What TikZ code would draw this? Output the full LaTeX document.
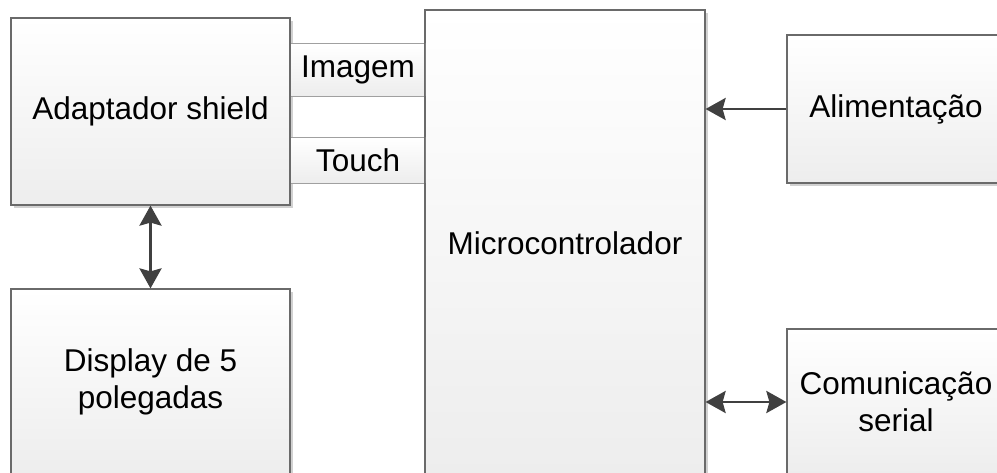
\documentclass[tikz,border=0pt]{standalone}
\usepackage{fontspec}
\setmainfont{Liberation Sans}
\usetikzlibrary{arrows.meta,shadows}
\definecolor{edgegray}{HTML}{6A6A6A}
\definecolor{bandline}{HTML}{A0A0A0}
\definecolor{arrowgray}{HTML}{404040}
\definecolor{shadegray}{HTML}{EDEDED}
\tikzset{
  block/.style={draw=edgegray, line width=1.2pt, top color=white, bottom color=shadegray,
    drop shadow={shadow xshift=3pt, shadow yshift=-3pt, fill=black!18, opacity=1},
    align=center, inner sep=0pt, font=\fontsize{31.5}{37}\selectfont},
  band/.style={top color=white, bottom color=shadegray, inner sep=0pt,
    font=\fontsize{31.5}{37}\selectfont},
  tiphead/.tip={Stealth[length=20pt, width=22pt, inset=3pt]},
  conn/.style={draw=arrowgray, line width=2.9pt, arrows={tiphead-tiphead}},
  oneway/.style={draw=arrowgray, line width=2.9pt, arrows={-tiphead}}
}
\begin{document}
\begin{tikzpicture}[x=1pt, y=-1pt]
  \useasboundingbox (0,0) rectangle (997,473);
  \begin{scope}
    \clip (0,0) rectangle (997,473);
    % main blocks
    \node[block, minimum width=279pt, minimum height=187pt] (adapt) at (150.5,111.5) {Adaptador shield};
    \node[block, minimum width=279pt, minimum height=186pt] (disp) at (150.5,382) {Display de 5\\polegadas};
    \node[block, minimum width=280pt, minimum height=466pt] (mcu) at (565,243) {Microcontrolador};
    \node[block, minimum width=218pt, minimum height=148pt] (power) at (896,109) {Alimentação};
    \node[block, minimum width=218pt, minimum height=146pt] (serial) at (896,402) {Comunicação\\serial};
    % signal bands between the shield and the microcontroller
    \node[band, minimum width=134pt, minimum height=52pt] (img) at (358,70) {Imagem};
    \node[band, minimum width=134pt, minimum height=45pt] (touch) at (358,160.5) {Touch};
    \draw[bandline, line width=1.2pt] (img.north west) -- (img.north east)
      (img.south west) -- (img.south east)
      (touch.north west) -- (touch.north east)
      (touch.south west) -- (touch.south east);
    \draw[edgegray, line width=1.2pt] (mcu.north west) -- (mcu.south west);
    % connectors
    \draw[oneway] (power.west) -- (power.west -| mcu.east);
    \draw[conn] (serial.west -| mcu.east) -- (serial.west);
    \draw[conn] (adapt.south) -- (disp.north);
  \end{scope}
\end{tikzpicture}
\end{document}
